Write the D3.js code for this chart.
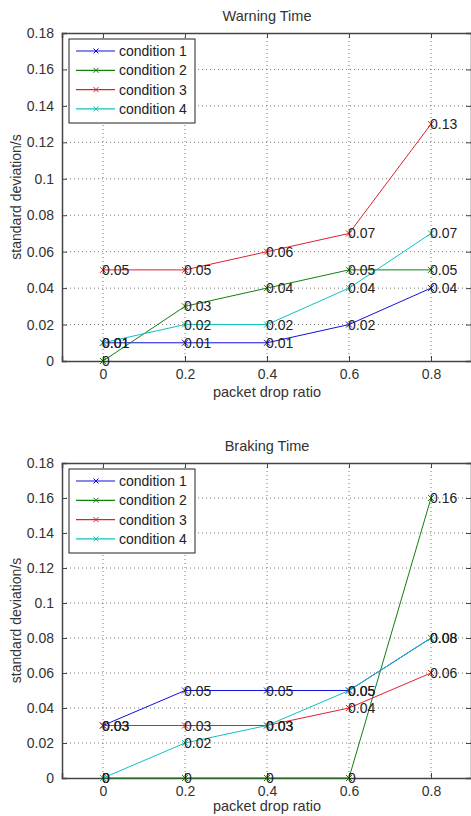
<!DOCTYPE html>
<html><head><meta charset="utf-8">
<script src="https://cdn.jsdelivr.net/npm/d3@7"></script>
<style>
body{margin:0;background:#fff;}
text{font-family:"Liberation Sans",Arial,sans-serif;fill:#333;}
</style></head>
<body><svg id="c" width="471" height="816"></svg>
<script>
const xValues = [0, 0.2, 0.4, 0.6, 0.8];
const seriesNames = ["condition 1", "condition 2", "condition 3", "condition 4"];
const seriesColors = ["#1010e0", "#108010", "#e02030", "#10c0c0"];
const warningC1 = [0.01, 0.01, 0.01, 0.02, 0.04];
const warningC2 = [0, 0.03, 0.04, 0.05, 0.05];
const warningC3 = [0.05, 0.05, 0.06, 0.07, 0.13];
const warningC4 = [0.01, 0.02, 0.02, 0.04, 0.07];
const brakingC1 = [0.03, 0.05, 0.05, 0.05, 0.08];
const brakingC2 = [0, 0, 0, 0, 0.16];
const brakingC3 = [0.03, 0.03, 0.03, 0.04, 0.06];
const brakingC4 = [0, 0.02, 0.03, 0.05, 0.08];
const xTicks = [0, 0.2, 0.4, 0.6, 0.8];
const xTickLabels = ["0", "0.2", "0.4", "0.6", "0.8"];
const yTicks = [0, 0.02, 0.04, 0.06, 0.08, 0.1, 0.12, 0.14, 0.16, 0.18];
const yTickLabels = ["0", "0.02", "0.04", "0.06", "0.08", "0.1", "0.12", "0.14", "0.16", "0.18"];

const svg = d3.select("#c");

function panel(title, series, top, bottom, titleY, xlabY){
  const x = d3.scaleLinear().domain([-0.1, 0.9]).range([62, 472]);
  const y = d3.scaleLinear().domain([0, 0.18]).range([bottom, top]);
  const g = svg.append("g");
  // grid
  g.selectAll(".gx").data(xTicks).enter().append("line")
    .attr("x1", d=>x(d)).attr("x2", d=>x(d)).attr("y1", top).attr("y2", bottom)
    .attr("stroke", "#777").attr("stroke-dasharray", "1,3").attr("stroke-width", 1);
  g.selectAll(".gy").data(yTicks.slice(1, -1)).enter().append("line")
    .attr("x1", 62).attr("x2", 472).attr("y1", d=>y(d)).attr("y2", d=>y(d))
    .attr("stroke", "#777").attr("stroke-dasharray", "1,3").attr("stroke-width", 1);
  // axes with inner ticks
  const axL = d3.axisLeft(y).tickValues(yTicks).tickSize(-5).tickPadding(8)
    .tickFormat((d,i)=>yTickLabels[i]);
  const gl = g.append("g").attr("transform", "translate(62,0)").call(axL);
  const axB = d3.axisBottom(x).tickValues(xTicks).tickSize(-5).tickPadding(8)
    .tickFormat((d,i)=>xTickLabels[i]);
  const gb = g.append("g").attr("transform", `translate(0,${bottom})`).call(axB);
  const axT = d3.axisTop(x).tickValues(xTicks).tickSize(-5).tickFormat("");
  const gt = g.append("g").attr("transform", `translate(0,${top})`).call(axT);
  const axR = d3.axisRight(y).tickValues(yTicks).tickSize(-5).tickFormat("");
  const gr = g.append("g").attr("transform", "translate(471,0)").call(axR);
  [gl, gb, gt, gr].forEach(a=>{
    a.select(".domain").attr("stroke", "#444").attr("stroke-width", 1.5);
    a.selectAll(".tick line").attr("stroke", "#444");
    a.selectAll(".tick text").style("font-size", "14px").style("fill", "#333")
      .style("font-family", "Liberation Sans, Arial, sans-serif");
  });
  // lines
  const line = d3.line().x((d,i)=>x(xValues[i])).y(d=>y(d));
  series.forEach((s, k)=>{
    g.append("path").datum(s).attr("d", line).attr("fill", "none")
      .attr("stroke", seriesColors[k]).attr("stroke-width", 1);
    s.forEach((v, i)=>{
      const cx = x(xValues[i]), cy = y(v);
      g.append("path").attr("d", `M${cx-3},${cy-3}L${cx+3},${cy+3}M${cx-3},${cy+3}L${cx+3},${cy-3}`)
        .attr("stroke", seriesColors[k]).attr("stroke-width", 1);
    });
  });
  // data labels
  series.forEach((s, k)=>{
    s.forEach((v, i)=>{
      g.append("text").attr("x", x(xValues[i]) - 1).attr("y", y(v)).attr("dy", "0.36em")
        .style("font-size", "14px").style("fill", "#222").text(d3.format("")(v));
    });
  });
  // title, labels
  g.append("text").attr("x", 267).attr("y", titleY).attr("text-anchor", "middle")
    .style("font-size", "14.5px").text(title);
  g.append("text").attr("x", 267).attr("y", xlabY).attr("text-anchor", "middle")
    .style("font-size", "14.5px").text("packet drop ratio");
  g.append("text").attr("transform", `translate(21,${(top+bottom)/2}) rotate(-90)`)
    .attr("text-anchor", "middle").style("font-size", "14px").text("standard deviation/s");
  // legend
  const lg = g.append("g").attr("transform", `translate(69,${top+6})`);
  lg.append("rect").attr("x", 0).attr("y", 0).attr("width", 126).attr("height", 84)
    .attr("fill", "#fff").attr("stroke", "#222").attr("stroke-width", 1);
  seriesNames.forEach((n, k)=>{
    const ry = 12 + k * 19.3;
    lg.append("line").attr("x1", 7).attr("x2", 46).attr("y1", ry).attr("y2", ry)
      .attr("stroke", seriesColors[k]).attr("stroke-width", 1.2);
    lg.append("path").attr("d", `M${27-2.5},${ry-2.5}L${27+2.5},${ry+2.5}M${27-2.5},${ry+2.5}L${27+2.5},${ry-2.5}`)
      .attr("stroke", seriesColors[k]).attr("stroke-width", 1);
    lg.append("text").attr("x", 50).attr("y", ry).attr("dy", "0.36em")
      .style("font-size", "14px").style("fill", "#222").text(n);
  });
}

panel("Warning Time", [warningC1, warningC2, warningC3, warningC4], 33, 361, 21, 397);
panel("Braking Time", [brakingC1, brakingC2, brakingC3, brakingC4], 463, 778, 451, 811);
</script></body></html>
